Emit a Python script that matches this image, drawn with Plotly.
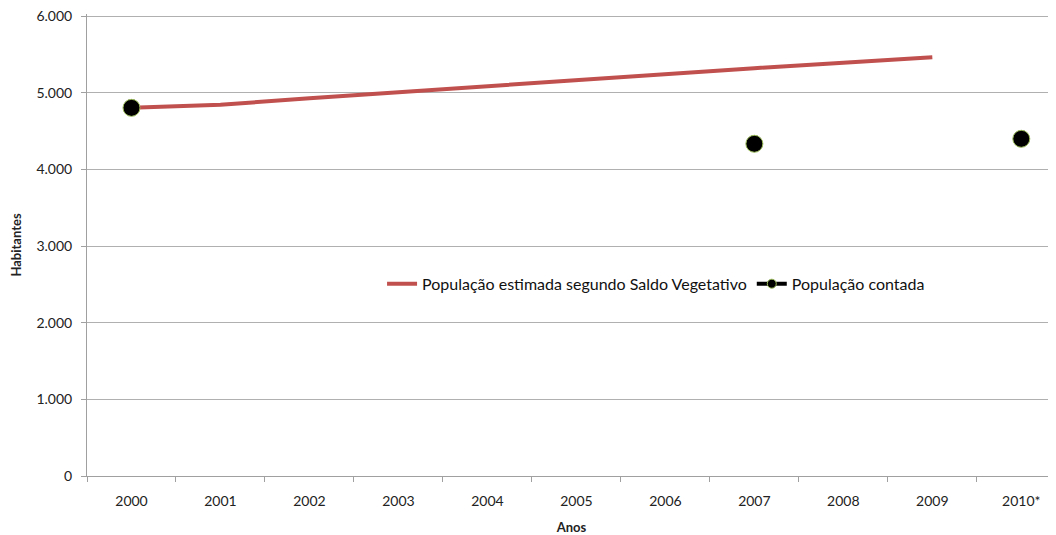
import plotly.graph_objects as go

anos = ["2000", "2001", "2002", "2003", "2004", "2005", "2006", "2007", "2008", "2009", "2010*"]
estimada = [4805, 4845, 4930, 5010, 5088, 5167, 5245, 5323, 5394, 5466, None]
contada = [4805, None, None, None, None, None, None, 4336, None, None, 4401]

font = "Lato, 'Open Sans', sans-serif"

fig = go.Figure()
fig.add_trace(go.Scatter(
    x=anos, y=estimada, mode="lines",
    name="População estimada segundo Saldo Vegetativo",
    line=dict(color="#c0504d", width=4),
))
fig.add_trace(go.Scatter(
    x=anos, y=contada, mode="lines+markers", connectgaps=False,
    name="População contada", showlegend=False,
    line=dict(color="black", width=4),
    marker=dict(color="black", size=17, line=dict(color="#9bbb59", width=1)),
))
# legend entry with a smaller marker, as in the original
fig.add_trace(go.Scatter(
    x=[None], y=[None], mode="lines+markers",
    name="População contada",
    line=dict(color="black", width=4),
    marker=dict(color="black", size=9, line=dict(color="#9bbb59", width=1)),
))

# page body has an 8px margin, so the figure is sized to fit the window
fig.update_layout(
    width=1048, height=527,
    margin=dict(l=79, r=0, t=6, b=59),
    plot_bgcolor="white", paper_bgcolor="white",
    separators=",.",
    font=dict(family=font, size=14, color="#222"),
    showlegend=True,
    legend=dict(
        orientation="h", x=0.3045, y=0.416, xanchor="left", yanchor="middle",
        font=dict(size=16, color="#111"), bgcolor="rgba(0,0,0,0)",
        itemwidth=30, tracegroupgap=0,
    ),
    xaxis=dict(
        type="category", categoryorder="array", categoryarray=anos,
        range=[-0.5, 10.39], tickson="boundaries", automargin=False,
        ticks="outside", ticklen=5, tickcolor="#a0a0a0", ticklabelstandoff=12,
        showline=True, linecolor="#a0a0a0", showgrid=False,
        title=dict(text="<b>Anos</b>", font=dict(size=13), standoff=18),
    ),
    yaxis=dict(
        range=[0, 6030], tickvals=[0, 1000, 2000, 3000, 4000, 5000, 6000],
        tickformat=",d", automargin=False, ticklabeloverflow="allow",
        ticks="outside", ticklen=5, tickcolor="#a0a0a0", ticklabelstandoff=6,
        showline=True, linecolor="#a0a0a0",
        gridcolor="#b0b0b0", zeroline=False,
        title=dict(text="<b>Habitantes</b>", font=dict(size=13), standoff=22),
    ),
)

fig.write_html("out.html")
